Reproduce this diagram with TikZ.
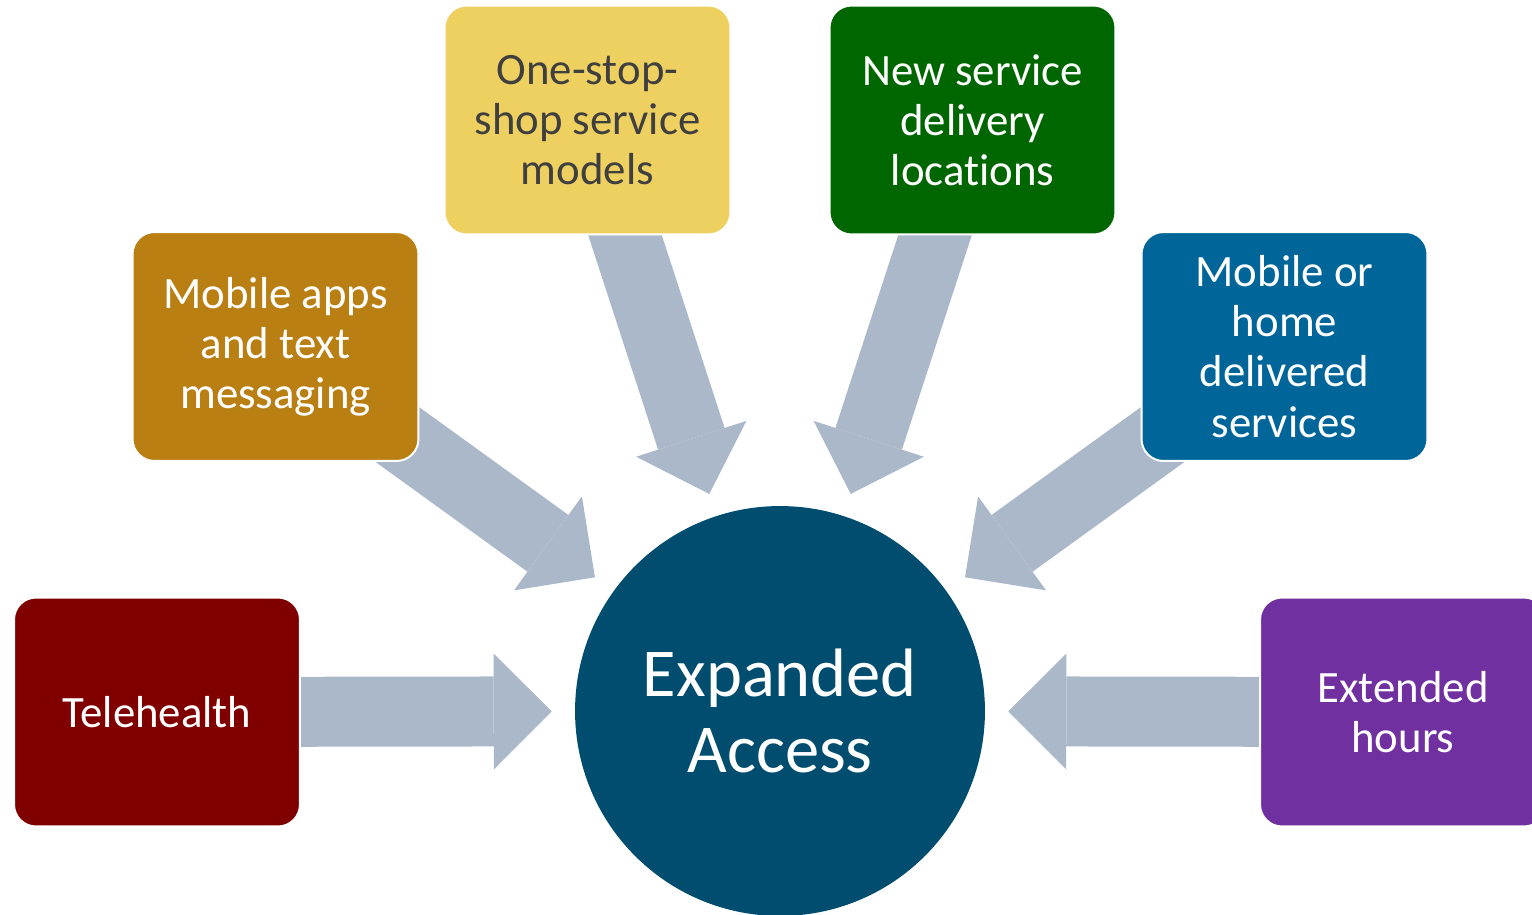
\documentclass[tikz,border=0pt]{standalone}
\usepackage{fontspec}
\setmainfont{Carlito}[Ligatures={NoCommon}]
\usetikzlibrary{arrows.meta,backgrounds}

\definecolor{telered}{HTML}{800000}
\definecolor{appsgold}{HTML}{B97F12}
\definecolor{shopyellow}{HTML}{EDD05F}
\definecolor{locgreen}{HTML}{006600}
\definecolor{homeblue}{HTML}{006699}
\definecolor{hourspurple}{HTML}{7030A0}
\definecolor{hubblue}{HTML}{004D70}
\definecolor{flowgray}{HTML}{ABB8CA}
\definecolor{shoptext}{HTML}{3F3F3F}

\tikzset{
  box/.style={draw=white, line width=0.04cm, rounded corners=0.44cm,
    minimum width=5.72cm, minimum height=4.58cm, inner sep=0pt,
    align=center, text=white, font=\fontsize{25.5pt}{28.5pt}\selectfont},
  hubnode/.style={circle, fill=hubblue, minimum size=8.2cm, inner sep=0pt,
    align=center, text=white, font=\fontsize{39pt}{43.2pt}\selectfont},
  flow/.style={draw=flowgray, line width=1.4cm, shorten >=0.46cm,
    -{Triangle[length=1.16cm,width=2.32cm,line width=0pt]}}
}

\begin{document}
\begin{tikzpicture}[x=0.02cm,y=-0.02cm]
\useasboundingbox (0,0) rectangle (1532,914);
% centre
\node[hubnode] (hub) at (780,711) {Expanded\\Access};
% the six ways in
\node[box,fill=telered] (tele) at (157,712) {Telehealth};
\node[box,fill=appsgold] (apps) at (275.5,346.5) {Mobile apps\\and text\\messaging};
\node[box,fill=shopyellow,text=shoptext] (shop) at (587.5,120) {One-stop-\\shop service\\models};
\node[box,fill=locgreen] (loc) at (972.5,120) {New service\\delivery\\locations};
\node[box,fill=homeblue] (home) at (1284.5,346.5) {Mobile or\\home\\delivered\\services};
\node[box,fill=hourspurple] (hours) at (1403,712) {Extended\\hours};
% block arrows, under the boxes
\begin{scope}[on background layer]
\foreach \nm in {tele,apps,shop,loc,home,hours}
  {\draw[flow] (\nm.center) -- (hub);}
\end{scope}
\end{tikzpicture}
\end{document}
